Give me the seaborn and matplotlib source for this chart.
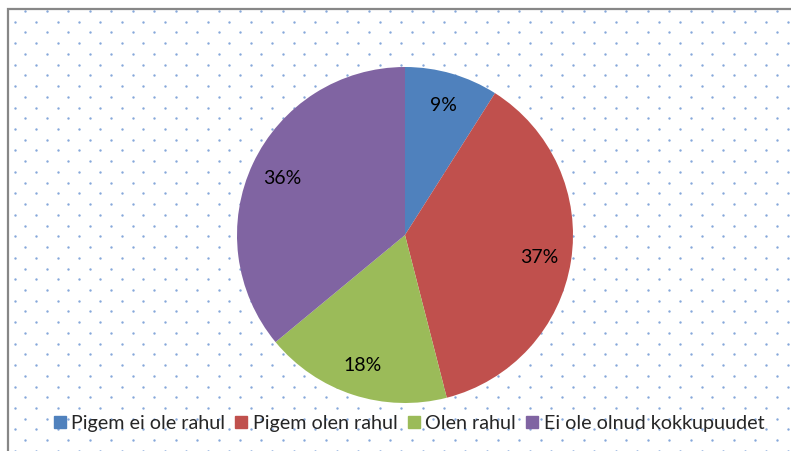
import numpy as np
import matplotlib
matplotlib.use("Agg")
import matplotlib.pyplot as plt
from matplotlib.lines import Line2D
import seaborn as sns

# data
categories = ["Pigem ei ole rahul", "Pigem olen rahul", "Olen rahul", "Ei ole olnud kokkupuudet"]
values = [9, 37, 18, 36]
labels = ["9%", "37%", "18%", "36%"]
colors = ["#4F81BD", "#C0504D", "#9BBB59", "#8064A2"]

sns.set_style("white")
plt.rcParams["font.family"] = ["Lato", "DejaVu Sans"]

W, H = 791, 452
fig = plt.figure(figsize=(W / 100, H / 100), dpi=100)

# background: dotted pattern + frame (decoration)
bg = fig.add_axes([0, 0, 1, 1])
bg.set_xlim(0, W)
bg.set_ylim(H, 0)
bg.axis("off")
dx, dy = 21.47, 10.73
pts = []
for i, y in enumerate(np.arange(12.0, H + 5, dy)):
    x0 = 25.3 if i % 2 == 0 else 14.6
    for x in np.arange(x0, W + 5, dx):
        pts.append((x, y))
pts = np.array(pts)
pts = pts[(pts[:, 0] > 10) & (pts[:, 1] > 11.5)]
bg.scatter(pts[:, 0], pts[:, 1], s=3.0, color="#86A8DA", linewidths=0, zorder=1)
bg.plot([8, 8, W + 2], [H + 2, 10, 10], color="#878787", lw=1.6, solid_joinstyle="miter", zorder=2)

# pie
cx, cy, r = 405, 236, 168
ax = fig.add_axes([(cx - r) / W, (H - cy - r) / H, 2 * r / W, 2 * r / H])
pal = sns.color_palette(colors)
wedges, texts = ax.pie(values, colors=pal, startangle=90, counterclock=False,
                       labels=labels, labeldistance=0.81,
                       wedgeprops=dict(linewidth=0),
                       textprops=dict(fontsize=14, color="black"))
for t in texts:
    t.set_horizontalalignment("center")
    t.set_verticalalignment("center")
ax.set_xlim(-1, 1)
ax.set_ylim(-1, 1)
ax.set_aspect("equal")
ax.axis("off")

handles = [Line2D([], [], marker="s", linestyle="none", markersize=8.5,
                  markerfacecolor=c, markeredgecolor=c) for c in colors]
fig.legend(handles, categories, loc="center", bbox_to_anchor=(408.5 / W, (H - 424) / H),
           ncol=4, frameon=False, fontsize=14.2, handlelength=0.7, handletextpad=0.25,
           columnspacing=0.45, borderaxespad=0, borderpad=0)

fig.savefig("out.png", dpi=100)
